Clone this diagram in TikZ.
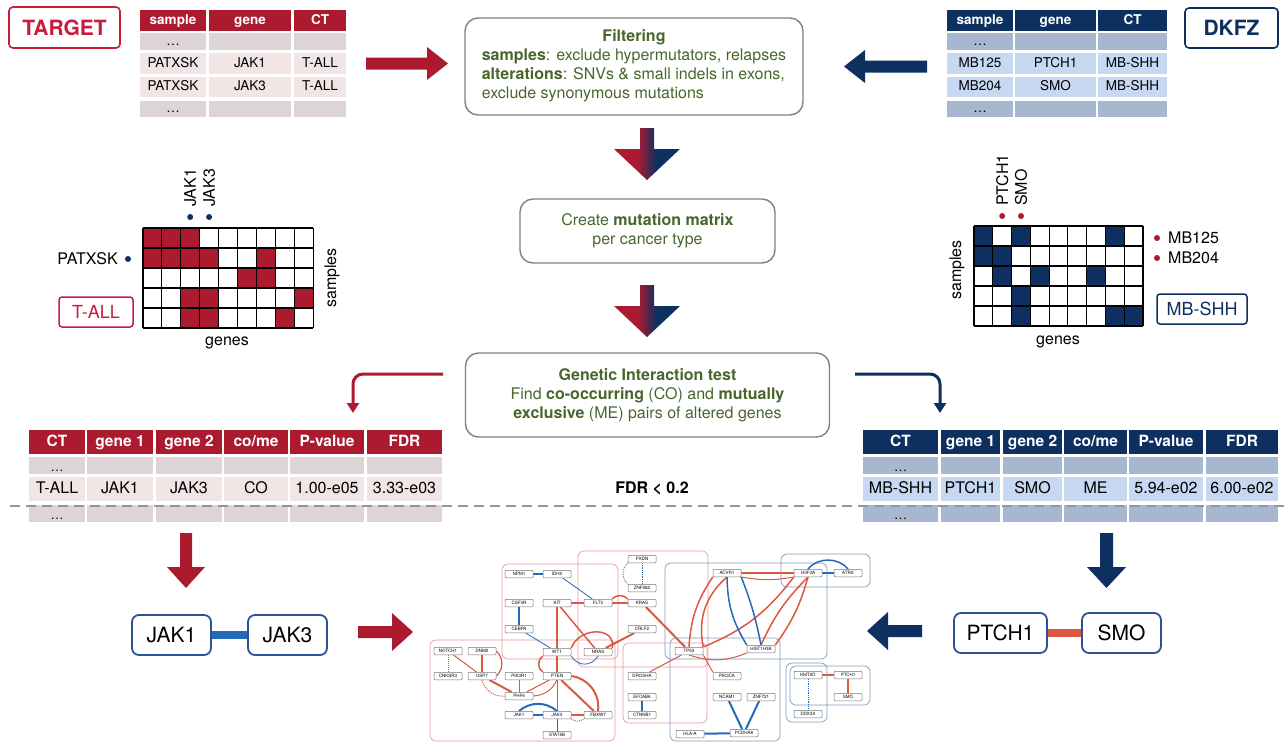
\documentclass[tikz,border=0pt]{standalone}
\usepackage{fontspec}
\setmainfont{TeX Gyre Heros}
\usetikzlibrary{arrows.meta, calc, positioning, backgrounds}

\definecolor{tred}{RGB}{172, 26, 47}
\definecolor{tpink}{RGB}{200, 28, 62}
\definecolor{tnavy}{RGB}{13, 48, 97}
\definecolor{rowr}{RGB}{222, 212, 213}
\definecolor{rowrl}{RGB}{242, 229, 230}
\definecolor{rowb}{RGB}{167, 183, 207}
\definecolor{rowbl}{RGB}{198, 216, 242}
\definecolor{txtg}{RGB}{72, 102, 44}
\definecolor{boxg}{RGB}{128, 128, 128}
\definecolor{cored}{RGB}{221, 88, 64}
\definecolor{meblue}{RGB}{36, 106, 184}
\definecolor{clred}{RGB}{233, 150, 160}
\definecolor{clblue}{RGB}{125, 155, 190}
\definecolor{pairb}{RGB}{42, 82, 148}
\definecolor{dashg}{RGB}{150, 150, 150}

\pgfdeclarehorizontalshading{rednavy}{100bp}{color(0bp)=(tred); color(25bp)=(tred); color(43bp)=(tred); color(57bp)=(tnavy); color(75bp)=(tnavy); color(100bp)=(tnavy)}

\begin{document}
\begin{tikzpicture}[x=1pt, y=-1pt,
    tcell/.style={fill=#1, inner sep=0pt, text height=10pt, text depth=2.5pt, font=\fontsize{13.5}{15}\selectfont},
    bcell/.style={fill=#1, inner sep=0pt, text height=11.5pt, text depth=3pt, font=\fontsize{16}{18}\selectfont},
    srcbox/.style={draw=#1, text=#1, rounded corners=4pt, line width=1.6pt, inner sep=0pt, font=\fontsize{21}{24}\selectfont\bfseries},
    ctbox/.style={draw=#1, text=#1, rounded corners=3pt, line width=1.5pt, inner sep=0pt, font=\fontsize{18}{20}\selectfont},
    stepbox/.style={draw=boxg, rounded corners=13pt, line width=1.4pt, text=txtg, inner sep=0pt, align=center, font=\fontsize{16}{19}\selectfont},
    lbl/.style={font=\fontsize{16}{18}\selectfont, inner sep=0pt},
    genebox/.style={draw=pairb, rounded corners=7pt, line width=1.8pt, fill=white, minimum height=40pt, inner sep=0pt, font=\fontsize{21}{24}\selectfont},
    gn/.style={draw=black!55, rounded corners=1pt, fill=white, minimum width=28pt, minimum height=7.5pt, inner sep=0pt, line width=0.5pt, font=\fontsize{4.5}{5}\selectfont},
    co/.style={cored, line width=#1}, co/.default=1pt,
    me/.style={meblue, line width=#1}, me/.default=1pt,
    clr/.style={draw=clred, rounded corners=6pt, line width=0.7pt},
    clb/.style={draw=clblue, rounded corners=6pt, line width=0.7pt},
]
\useasboundingbox (0,0) rectangle (1284,742);

% sources
\node[srcbox=tpink, minimum width=111pt, minimum height=41pt] (target) at (64.5,27.5) {TARGET};
\node[srcbox=tnavy, minimum width=93pt, minimum height=40pt] (dkfz) at (1231.5,28) {DKFZ};

% mutation tables
\foreach \c/\xa/\xb/\t in {1/140/206/sample, 2/209/291/gene, 3/294/346/CT}{
    \node[tcell=tred, text=white, font=\fontsize{13.5}{15}\selectfont\bfseries, minimum width=\xb-\xa, minimum height=21] (TGh\c) at ({(\xa+\xb)/2},20.5) {\t};
}
\foreach \r/\ya/\yb/\fc/\ta/\tb/\tc in {1/33/50/rowr/{\ldots}/{}/{}, 2/53/74/rowrl/PATXSK/JAK1/T-ALL, 3/77/97/rowrl/PATXSK/JAK3/T-ALL, 4/101/117/rowr/{\ldots}/{}/{}}{
    \foreach \c/\xa/\xb/\t in {1/140/206/\ta, 2/209/291/\tb, 3/294/346/\tc}{
        \node[tcell=\fc, minimum width=\xb-\xa, minimum height=\yb-\ya] (TG\r\c) at ({(\xa+\xb)/2},{(\ya+\yb)/2}) {\t};
    }
}
\foreach \c/\xa/\xb/\t in {1/947/1013/sample, 2/1015/1096/gene, 3/1098/1167/CT}{
    \node[tcell=tnavy, text=white, font=\fontsize{13.5}{15}\selectfont\bfseries, minimum width=\xb-\xa, minimum height=21] (DKh\c) at ({(\xa+\xb)/2},20.5) {\t};
}
\foreach \r/\ya/\yb/\fc/\ta/\tb/\tc in {1/33/50/rowb/{\ldots}/{}/{}, 2/53/74/rowbl/MB125/PTCH1/MB-SHH, 3/77/97/rowbl/MB204/SMO/MB-SHH, 4/101/117/rowb/{\ldots}/{}/{}}{
    \foreach \c/\xa/\xb/\t in {1/947/1013/\ta, 2/1015/1096/\tb, 3/1098/1167/\tc}{
        \node[tcell=\fc, minimum width=\xb-\xa, minimum height=\yb-\ya] (DK\r\c) at ({(\xa+\xb)/2},{(\ya+\yb)/2}) {\t};
    }
}

% block arrows into filtering
\fill[tred] (366,57.5) -- (427,57.5) -- (427,47) -- (448,63.5) -- (427,80) -- (427,69.5) -- (366,69.5) -- cycle;
\fill[tnavy] (927,60.5) -- (865,60.5) -- (865,50) -- (844,66.5) -- (865,83) -- (865,72.5) -- (927,72.5) -- cycle;

% pipeline steps
\node[stepbox, minimum width=338pt, minimum height=97pt] (filt) at (634,66.5) {\begin{tabular}{@{}l@{}}\multicolumn{1}{@{}c@{}}{\textbf{Filtering}}\\ \textbf{samples}: exclude hypermutators, relapses\\ \textbf{alterations}: SNVs \& small indels in exons,\\ exclude synonymous mutations\end{tabular}};
\node[stepbox, minimum width=255pt, minimum height=64pt] (mmat) at (647.5,231) {Create \textbf{mutation matrix}\\ per cancer type};
\node[stepbox, minimum width=364pt, minimum height=84pt] (gitest) at (647.5,395) {\textbf{Genetic Interaction test}\\ Find \textbf{co-occurring} (CO) and \textbf{mutually}\\ \textbf{exclusive} (ME) pairs of altered genes};

\shade[shading=rednavy] (640,128) -- (654,128) -- (654,149) -- (680,149) -- (647,180) -- (614,149) -- (640,149) -- cycle;
\shade[shading=rednavy] (640,285) -- (654,285) -- (654,306) -- (680,306) -- (647,337) -- (614,306) -- (640,306) -- cycle;

% mutation matrix T-ALL
\foreach \r/\c in {1/1,1/2,1/3, 2/1,2/2,2/3,2/4,2/7, 3/6,3/7, 4/3,4/4,4/9, 5/3,5/4,5/8}{
    \fill[tred] ({143+(\c-1)*18.9},{228+(\r-1)*20}) rectangle ++(18.9,20);
}
\foreach \c in {0,...,9}{
    \draw[line width=1.1pt] ({143+\c*18.9},228) -- ({143+\c*18.9},328);
}
\foreach \r in {0,...,5}{
    \draw[line width=1.1pt] (143,{228+\r*20}) -- (313.1,{228+\r*20});
}
\foreach \x/\g in {190.2/JAK1, 209.1/JAK3}{
    \fill[tnavy] (\x,217) circle (3pt);
    \node[lbl, rotate=90, anchor=west] (lm-\g) at (\x,207) {\g};
}
\fill[tnavy] (128,259) circle (3pt);
\node[lbl, anchor=east] (lm-pat) at (118,259) {PATXSK};
\node[ctbox=tpink, minimum width=74pt, minimum height=30pt] (tall) at (96,312) {T-ALL};
\node[lbl, rotate=90] (lm-smp) at (332,278) {samples};
\node[lbl] (lm-gen) at (227,343) {genes};

% mutation matrix MB-SHH
\foreach \r/\c in {1/1,1/3,1/8, 2/1,2/2, 3/2,3/4,3/7, 4/3, 5/3,5/8,5/9}{
    \fill[tnavy] ({974+(\c-1)*18.78},{226+(\r-1)*20}) rectangle ++(18.78,20);
}
\foreach \c in {0,...,9}{
    \draw[line width=1.1pt] ({974+\c*18.78},226) -- ({974+\c*18.78},326);
}
\foreach \r in {0,...,5}{
    \draw[line width=1.1pt] (974,{226+\r*20}) -- (1143.1,{226+\r*20});
}
\foreach \x/\g in {1002.2/PTCH1, 1021/SMO}{
    \fill[tred] (\x,216) circle (3pt);
    \node[lbl, rotate=90, anchor=west] (rm-\g) at (\x,206) {\g};
}
\foreach \y/\s in {238/MB125, 258/MB204}{
    \fill[tred] (1157,\y) circle (3pt);
    \node[lbl, anchor=west] (rm-\s) at (1168,\y) {\s};
}
\node[ctbox=tnavy, minimum width=90pt, minimum height=30pt] (mbshh) at (1202,309) {MB-SHH};
\node[lbl, rotate=90] (rm-smp) at (957,270) {samples};
\node[lbl] (rm-gen) at (1058,342) {genes};

% results
\coordinate (gl) at (443,374);
\coordinate (gr) at (855,374);
\coordinate (rl) at (353,413);
\coordinate (rr) at (940,413);
\draw[tred, line width=3pt, rounded corners=10pt, -{Triangle[length=10pt, width=12pt]}] (gl) -- (rl |- gl) -- (rl);
\draw[tnavy, line width=3pt, rounded corners=10pt, -{Triangle[length=10pt, width=12pt]}] (gr) -- (rr |- gr) -- (rr);

\foreach \c/\xa/\xb/\t in {1/29/85/CT, 2/87/153/gene 1, 3/156/222/gene 2, 4/224/288/{co/me}, 5/290/364/P-value, 6/367/442/FDR}{
    \node[bcell=tred, text=white, font=\fontsize{15.5}{18}\selectfont\bfseries, minimum width=\xb-\xa, minimum height=24] (RLh\c) at ({(\xa+\xb)/2},442) {\t};
}
\foreach \c/\xa/\xb/\t in {1/863/938/CT, 2/941/1000/gene 1, 3/1003/1062/gene 2, 4/1064/1127/{co/me}, 5/1129/1203/P-value, 6/1206/1278/FDR}{
    \node[bcell=tnavy, text=white, font=\fontsize{15.5}{18}\selectfont\bfseries, minimum width=\xb-\xa, minimum height=24] (RRh\c) at ({(\xa+\xb)/2},442) {\t};
}
\foreach \r/\ya/\yb/\fc in {1/457/474/rowr, 2/477/501/rowrl, 3/505/522/rowr}{
    \foreach \c/\xa/\xb in {1/29/85, 2/87/153, 3/156/222, 4/224/288, 5/290/364, 6/367/442}{
        \node[bcell=\fc, minimum width=\xb-\xa, minimum height=\yb-\ya] (RL\r\c) at ({(\xa+\xb)/2},{(\ya+\yb)/2}) {};
    }
}
\foreach \r/\ya/\yb/\fc in {1/457/474/rowb, 2/477/501/rowbl, 3/505/522/rowb}{
    \foreach \c/\xa/\xb in {1/863/938, 2/941/1000, 3/1003/1062, 4/1064/1127, 5/1129/1203, 6/1206/1278}{
        \node[bcell=\fc, minimum width=\xb-\xa, minimum height=\yb-\ya] (RR\r\c) at ({(\xa+\xb)/2},{(\ya+\yb)/2}) {};
    }
}
\foreach \c/\t in {1/T-ALL, 2/JAK1, 3/JAK3, 4/CO, 5/1.00-e05, 6/3.33-e03}{
    \node[bcell=rowrl, fill=none] at (RL2\c) {\t};
}
\foreach \c/\t in {1/MB-SHH, 2/PTCH1, 3/SMO, 4/ME, 5/5.94-e02, 6/6.00-e02}{
    \node[bcell=rowbl, fill=none] at (RR2\c) {\t};
}
\foreach \t in {RL11, RL31, RR11, RR31}{
    \node[bcell=none, fill=none, font=\fontsize{13}{15}\selectfont] at ([yshift=-2pt]\t) {\ldots};
}

\node[font=\fontsize{16}{18}\selectfont\bfseries] (fdr) at (652,488) {FDR < 0.2};
\draw[dashg, line width=1.8pt, dash pattern=on 10pt off 6pt] (10,506) -- (1284,506);

% significant pairs
\fill[tred] (180,533) -- (192,533) -- (192,567) -- (205,567) -- (186,588) -- (167,567) -- (180,567) -- cycle;
\fill[tnavy] (1100,533) -- (1113,533) -- (1113,567) -- (1126,567) -- (1106.5,588) -- (1087,567) -- (1100,567) -- cycle;
\node[genebox, minimum width=79pt] (pJAK1) at (171.5,635) {JAK1};
\node[genebox, minimum width=79pt] (pJAK3) at (287.5,635) {JAK3};
\draw[meblue, line width=8pt] (pJAK1) -- (pJAK3);
\node[genebox, minimum width=93pt] (pPTCH1) at (1000.5,633) {PTCH1};
\node[genebox, minimum width=79pt] (pSMO) at (1121.5,633) {SMO};
\draw[cored, line width=8pt] (pPTCH1) -- (pSMO);
\fill[tred] (358,626) -- (392,626) -- (392,613) -- (413,632) -- (392,651) -- (392,638) -- (358,638) -- cycle;
\fill[tnavy] (922,625) -- (888,625) -- (888,612) -- (867,631) -- (888,650) -- (888,637) -- (922,637) -- cycle;

% network
\foreach \n/\x/\y in {NPM1/519/574, IDH2/557/574, CSF3R/519/603, KIT/557/603, FLT3/598/603, KRAS/642/603,
    PXDN/642/559, ZNF582/642/588, CEBPA/519/629, CRLF2/642/629, WT1/557/652, NRAS/598/652, TP53/689/651,
    NOTCH1/448/651, DNM2/482/651, CNKSR3/448/676, USP7/482/676, PIK3R1/519/676, PTEN/557/676, DROSHA/642/676,
    PHF6/519/696, EFCAB6/642/697, JAK1/519/715, JAK3/557/715, FBXW7/598/715, CTNNB1/642/715, STAT5B/557/735,
    HLA-A/690/734, ACVR1/727/573, H3F3A/808/573, ATRX/848/573, HIST1H3B/761/649, PIK3CA/727/676,
    NCAM1/727/697, ZNF721/761/697, PCDHA8/744/733, KMT2D/808/675, PTCH1/848/675, SMO/848/697, DDX3X/808/714}{
    \node[gn] (g-\n) at (\x,\y) {\n};
}

\begin{scope}[on background layer]
    \draw[clr] (502,564) rectangle (618,659);
    \draw[clr] (578,551) rectangle (708,667);
    \draw[clr] (430,640) rectangle (615,741);
    \draw[clr] (623,643) rectangle (707,723);
    \draw[clb] (665,563) rectangle (827,659);
    \draw[clb] (670,638) rectangle (780,741);
    \draw[clb] (781,554) rectangle (870,587);
    \draw[clb] (786,663) rectangle (827,722);
    \draw[clb] (790,666) rectangle (870,705);

    % co-occurring
    \draw[co=2pt] (g-KIT) -- (g-FLT3);
    \draw[co=2pt] (g-FLT3) -- (g-KRAS);
    \draw[co=1.5pt] (g-FLT3.north east) to[bend left=50] (g-KRAS.north west);
    \draw[co=2pt] (g-KRAS) -- (g-TP53);
    \draw[co=2pt] (g-CRLF2) -- (g-NRAS);
    \draw[co=1.5pt] (g-KIT) -- (g-NRAS);
    \draw[co=2pt] (g-KIT) -- (g-PTEN);
    \draw[co=1.5pt] (g-WT1.south west) to[bend right=60] (g-PTEN.north west);
    \draw[co=1.5pt] (g-WT1.north east) to[out=70, in=80, looseness=1.4] (g-NRAS.north east);
    \draw[co=1pt] (g-NOTCH1) -- (g-USP7);
    \draw[co=1pt, densely dotted] (g-NOTCH1) -- (g-CNKSR3);
    \draw[co=2pt] (g-DNM2) -- (g-USP7);
    \draw[co=1.2pt] (g-DNM2.east) to[bend left=50] (g-USP7.east);
    \draw[co=2pt] (g-USP7) -- (g-PHF6);
    \draw[co=1pt, densely dotted] (g-USP7.south) to[bend right=40] (g-PHF6.west);
    \draw[co=1pt] (g-PIK3R1) -- (g-PHF6);
    \draw[co=1pt] (g-PTEN) -- (g-PHF6);
    \draw[co=1pt] (g-PTEN.south) to[bend left=30] (g-PHF6.east);
    \draw[co=1pt] (g-PTEN) -- (g-JAK3);
    \draw[co=2pt] (g-PTEN) -- (g-FBXW7);
    \draw[co=2pt] (g-PTEN.east) to[bend left=45] (g-FBXW7.north);
    \draw[co=2pt] (g-JAK3) -- (g-FBXW7);
    \draw[co=1pt, densely dotted] (g-JAK3.south east) to[bend right=35] (g-FBXW7.south west);
    \draw[co=1pt] (g-TP53) -- (g-DROSHA);
    \draw[co=1.5pt] (g-TP53.north) to[bend left=15] (g-ACVR1.south west);
    \draw[co=1.5pt] (g-TP53.north east) to[bend left=30] (g-ACVR1.south);
    \draw[co=1.5pt] (g-TP53.north east) to[bend right=15] (g-H3F3A.south west);
    \draw[co=1pt] (g-TP53.south east) -- (g-PIK3CA.north west);
    \draw[co=1pt] (g-TP53.south) to[bend right=20] (g-HIST1H3B.south west);
    \draw[co=2pt] (g-ACVR1) -- (g-H3F3A);
    \draw[co=1pt] (g-ACVR1.south east) to[bend right=10] (g-H3F3A.south west);
    \draw[co=1.5pt] (g-HIST1H3B.north) to[bend left=10] (g-H3F3A.south);
    \draw[co=1.5pt] (g-HIST1H3B.north east) to[bend right=10] (g-H3F3A.south);
    \draw[co=1.5pt] (g-KMT2D) -- (g-PTCH1);
    \draw[co=1.5pt] (g-PTCH1) -- (g-SMO);

    % mutually exclusive
    \draw[me=1.2pt] (g-NPM1) -- (g-IDH2);
    \draw[me=0.8pt] (g-IDH2) -- (g-FLT3);
    \draw[me=1.2pt] (g-CSF3R) -- (g-CEBPA);
    \draw[me=0.8pt] (g-CEBPA) -- (g-WT1);
    \draw[me=0.8pt] (g-WT1.south east) to[out=-60, in=-120, looseness=1.2] (g-NRAS.south);
    \draw[me=0.8pt, densely dotted] (g-PXDN.south west) to[bend right=50] (g-ZNF582.north west);
    \draw[me=0.8pt, densely dotted] (g-PXDN) -- (g-ZNF582);
    \draw[me=2pt] (g-JAK1) -- (g-JAK3);
    \draw[me=2pt] (g-JAK1.north) to[bend left=40] (g-JAK3.north);
    \draw[me=0.8pt] (g-JAK3) -- (g-STAT5B);
    \draw[me=2pt] (g-EFCAB6) -- (g-CTNNB1);
    \draw[me=1.5pt] (g-ACVR1.south) to[bend right=15] (g-HIST1H3B.north west);
    \draw[me=1.5pt] (g-ACVR1.south east) to[bend left=5] (g-HIST1H3B.north);
    \draw[me=1.5pt] (g-H3F3A) -- (g-ATRX);
    \draw[me=1.5pt] (g-H3F3A.north) to[bend left=50] (g-ATRX.north);
    \draw[me=2pt] (g-NCAM1) -- (g-PCDHA8);
    \draw[me=2pt] (g-ZNF721) -- (g-PCDHA8);
    \draw[me=2pt] (g-HLA-A) -- (g-PCDHA8);
    \draw[me=0.8pt, densely dotted] (g-KMT2D) -- (g-DDX3X);
\end{scope}

\end{tikzpicture}
\end{document}
